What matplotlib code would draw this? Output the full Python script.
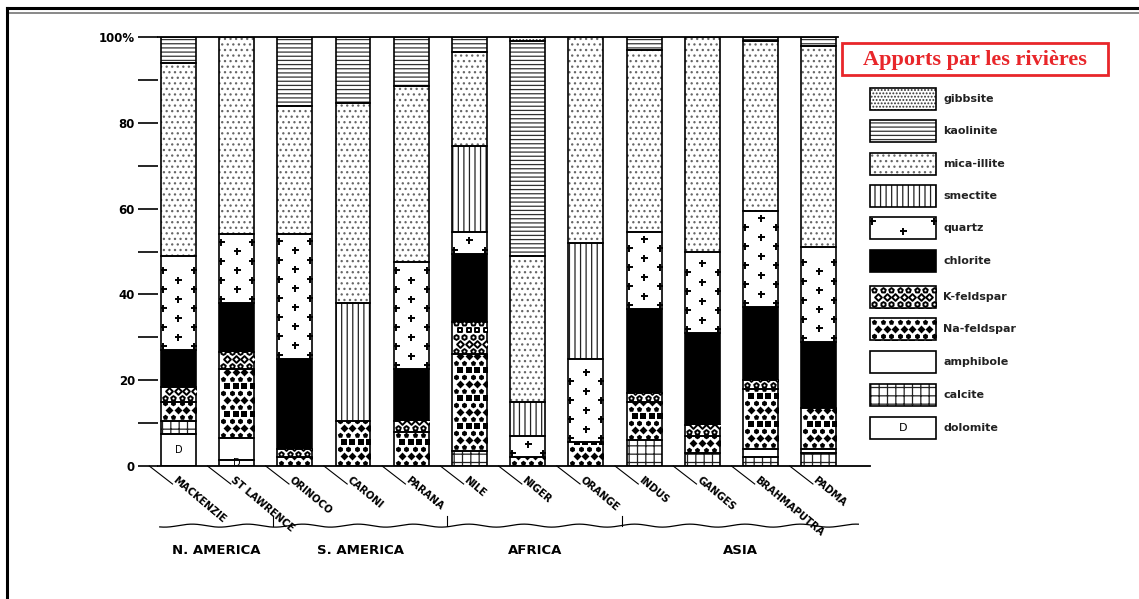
import numpy as np
import matplotlib
matplotlib.use('Agg')
import matplotlib.pyplot as plt
from matplotlib.patches import Rectangle
from matplotlib.lines import Line2D

# ---------------- data ----------------
rivers = ['MACKENZIE', 'ST LAWRENCE', 'ORINOCO', 'CARONI', 'PARANA', 'NILE',
          'NIGER', 'ORANGE', 'INDUS', 'GANGES', 'BRAHMAPUTRA', 'PADMA']
regions = ['N. AMERICA', 'S. AMERICA', 'AFRICA', 'ASIA']
region_sizes = [2, 3, 3, 4]

dolomite    = [7.5, 1.5, 0, 0, 0, 0, 0, 0, 0, 0, 0, 0]
calcite     = [3, 0, 0, 0, 0, 3.5, 0, 0, 6, 3, 2, 3]
amphibole   = [0, 5, 0, 0, 0, 0, 0, 0, 0, 0, 2, 1]
na_feldspar = [4.5, 16, 2, 10.5, 8, 22.5, 2, 5.5, 9, 4, 14, 9.5]
k_feldspar  = [3.5, 4, 2, 0, 2.5, 7.5, 0, 0, 2, 2.5, 2, 0]
chlorite    = [8.5, 11.5, 21, 0, 12, 16, 0, 0, 19.5, 21.5, 17, 15.5]
quartz      = [22, 16, 29, 0, 25, 5, 5, 19.5, 18, 19, 22.5, 22]
smectite    = [0, 0, 0, 27.5, 0, 20, 8, 27, 0, 0, 0, 0]
mica_illite = [45, 46, 30, 46.5, 41, 22, 34, 48, 42.5, 50, 39.5, 47]
kaolinite   = [6, 0, 16, 15.5, 11.5, 3.5, 50, 0, 3, 0, 1, 2]
gibbsite    = [0, 0, 0, 0, 0, 0, 1, 0, 0, 0, 0, 0]

legend_labels = ['gibbsite', 'kaolinite', 'mica-illite', 'smectite', 'quartz',
                 'chlorite', 'K-feldspar', 'Na-feldspar', 'amphibole', 'calcite',
                 'dolomite']
yticks = [0, 20, 40, 60, 80, 100]
ytick_labels = ['0', '20', '40', '60', '80', '100%']
title = 'Apports par les rivières'

stack = [('dolomite', dolomite), ('calcite', calcite), ('amphibole', amphibole),
         ('Na-feldspar', na_feldspar), ('K-feldspar', k_feldspar),
         ('chlorite', chlorite), ('quartz', quartz), ('smectite', smectite),
         ('mica-illite', mica_illite), ('kaolinite', kaolinite),
         ('gibbsite', gibbsite)]

# ---------------- style ----------------
plt.rcParams['hatch.linewidth'] = 0.9
plt.rcParams['font.family'] = ['DejaVu Sans']

STY = {
    'gibbsite':    dict(face='white', hatch='.....', hc='#333333'),
    'kaolinite':   dict(face='white', hatch='----', hc='#333333'),
    'mica-illite': dict(face='white', hatch='...', hc='#666666'),
    'smectite':    dict(face='white', hatch='|||', hc='#222222'),
    'quartz':      dict(face='white', hatch=None, hc='black'),
    'chlorite':    dict(face='black', hatch=None, hc='black'),
    'K-feldspar':  dict(face='white', hatch=None, hc='black'),
    'Na-feldspar': dict(face='white', hatch=None, hc='black'),
    'amphibole':   dict(face='white', hatch=None, hc='black'),
    'calcite':     dict(face='white', hatch='++', hc='#222222'),
    'dolomite':    dict(face='white', hatch=None, hc='black'),
}


def pt(px):
    return px * 0.72


def add_texture(ax, patch, key, sx, sy, fs=7):
    x, y, w, h = patch.get_x(), patch.get_y(), patch.get_width(), patch.get_height()
    if h < 0:
        y, h = y + h, -h
    if h <= 0:
        return
    wp, hp = w * sx, h * sy
    if key == 'quartz':
        step = 9.5
        n = int(hp // step)
        xs, ys = [], []
        for r in range(n):
            yy = y + (4 + r * step) / sy
            if r % 2 == 0:
                xs += [x + 2 / sx, x + w - 2 / sx]
                ys += [yy, yy]
            else:
                xs.append(x + w / 2)
                ys.append(yy)
        if xs:
            sc = ax.scatter(xs, ys, marker='+', s=pt(7) ** 2, color='black',
                            linewidths=1.4, zorder=4)
            sc.set_clip_path(patch)
    elif key in ('Na-feldspar', 'K-feldspar'):
        dxp, dyp = 8.5, 7.0
        ncol = max(1, int(wp // dxp))
        nrow = max(1, int(np.ceil(hp / dyp)))
        marks = ['p', 'D', 'h', 's']
        for r in range(nrow):
            yy = y + (3.5 + r * dyp) / sy
            off = (dxp / 2 if r % 2 else 0)
            xs = [x + (4 + off + c * dxp) / sx for c in range(ncol + 1)]
            xs = [v for v in xs if v < x + w]
            if not xs:
                continue
            if key == 'Na-feldspar':
                sc = ax.scatter(xs, [yy] * len(xs), marker=marks[r % 4],
                                s=pt(5.6) ** 2, color='black', linewidths=0, zorder=4)
            else:
                sc = ax.scatter(xs, [yy] * len(xs), marker=marks[r % 4],
                                s=pt(4.8) ** 2, facecolor='white', edgecolor='black',
                                linewidths=1.4, zorder=4)
            sc.set_clip_path(patch)
    elif key == 'dolomite':
        if hp >= 6:
            ax.text(x + w / 2, y + h / 2, 'D', ha='center', va='center',
                    fontsize=fs, zorder=5, clip_on=False)


W, H = 1139, 599
fig = plt.figure(figsize=(W / 100, H / 100), dpi=100)

# main axes
ax = fig.add_axes([158 / W, 1 - 466 / H, (870 - 158) / W, (466 - 37) / H])
ax.set_xlim(-0.35, 11.88)
ax.set_ylim(0, 100)
for s in ax.spines.values():
    s.set_visible(False)

x = np.arange(len(rivers))
width = 0.6
sx = 712 / (11.88 + 0.35)
sy = 429 / 100.0
bottom = np.zeros(len(rivers))
for key, vals in stack:
    vals = np.asarray(vals, dtype=float)
    st = STY[key]
    bars = ax.bar(x, vals, width, bottom=bottom, color=st['face'], hatch=st['hatch'],
                  edgecolor=st['hc'], linewidth=0, zorder=2)
    mask = vals > 0
    ax.bar(x[mask], vals[mask], width, bottom=bottom[mask], fill=False,
           edgecolor='black', linewidth=1.2, zorder=3)
    for p, v in zip(bars.patches, vals):
        if v > 0:
            add_texture(ax, p, key, sx, sy)
    bottom += vals

# y axis
ax.set_yticks(yticks)
ax.set_yticklabels(ytick_labels, fontsize=8.5, fontweight='bold')
ax.set_yticks([10, 30, 50, 70, 90], minor=True)
ax.tick_params(axis='y', which='both', length=14.5, width=1.2, direction='out', pad=2)
ax.set_xticks([])
ax.plot([-0.35, 11.33], [100, 100], color='black', lw=1.3, clip_on=False, zorder=3)
ax.plot([-0.35, 11.88], [0, 0], color='black', lw=1.3, clip_on=False, zorder=3)

# river labels with leader lines
for i, name in enumerate(rivers):
    ax.plot([i - 0.5, i - 0.5 + 0.4], [0, -4.2], color='black', lw=0.8, clip_on=False)
    ax.text(i - 0.02, -2.0, name, rotation=-40, rotation_mode='anchor',
            ha='left', va='top', fontsize=7.2, fontweight='bold', clip_on=False)

# region braces
edges = np.concatenate([[0], np.cumsum(region_sizes)])
bounds = [-0.32] + [e - 0.5 + 0.12 for e in edges[1:-1]] + [11.68]
xs = np.linspace(bounds[0], bounds[-1], 800)
yw = -13.9 + 0.35 * np.sin(xs * 2 * np.pi / 0.95)
ax.plot(xs, yw, color='black', lw=0.9, clip_on=False)
for b in bounds[1:-1]:
    ax.plot([b, b], [-13.9, -11.6], color='black', lw=0.8, clip_on=False)
for r, name in enumerate(regions):
    ax.text((bounds[r] + bounds[r + 1]) / 2, -19.8, name, ha='center', va='center',
            fontsize=9.5, fontweight='bold', clip_on=False)

# overlay axes in pixel coordinates (legend, title box, frame)
ov = fig.add_axes([0, 0, 1, 1])
ov.set_xlim(0, W)
ov.set_ylim(H, 0)
ov.axis('off')

ov.add_patch(Rectangle((842, 43), 266, 32, fill=False, edgecolor='#e8262a', lw=2))
ov.text(975, 59.5, title, ha='center', va='center', color='#e8262a', fontsize=16,
        fontweight='bold', family='Liberation Serif')

rows_y = [99, 131, 164, 196, 228, 261, 297, 329, 362, 395, 428]
for lab, cy in zip(legend_labels, rows_y):
    st = STY[lab]
    rp = Rectangle((870, cy - 11), 66, 22, facecolor=st['face'], hatch=st['hatch'],
                   edgecolor=st['hc'], lw=0, zorder=2)
    ov.add_patch(rp)
    ov.add_patch(Rectangle((870, cy - 11), 66, 22, fill=False, edgecolor='black',
                           lw=1.2, zorder=3))
    add_texture(ov, rp, lab, 1, 1, fs=8)
    ov.text(943, cy, lab, ha='left', va='center', fontsize=8, fontweight='bold',
            color='#222222')

# frame lines
ov.add_line(Line2D([7, W], [8, 8], color='black', lw=2.2))
ov.add_line(Line2D([7, W], [12.5, 12.5], color='#888888', lw=1.4))
ov.add_line(Line2D([7, 7], [8, H], color='black', lw=2.2))

fig.savefig('out.png', dpi=100)
